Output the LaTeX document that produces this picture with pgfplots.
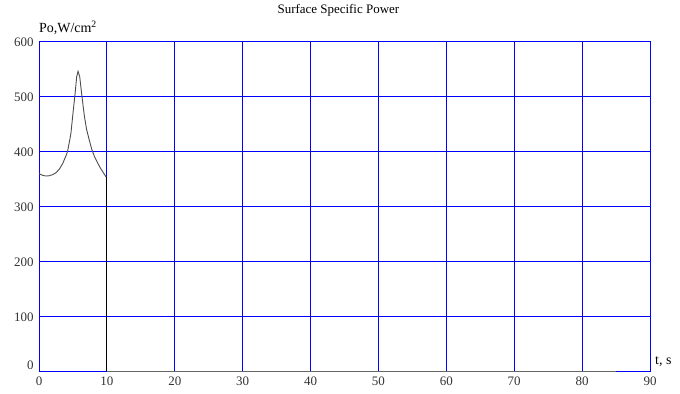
\documentclass[border=0pt]{standalone}
\usepackage{fontspec}
\setmainfont{Liberation Serif}
\usepackage{pgfplots}
\pgfplotsset{compat=1.18}
\definecolor{gridblue}{RGB}{0,0,255}
\begin{document}
\fontsize{13}{15}\selectfont
\begin{tikzpicture}[x=1bp,y=1bp]
\begin{axis}[
  at={(0,0)}, anchor=south west,
  scale only axis, width=611bp, height=330bp,
  xmin=0, xmax=90, ymin=0, ymax=600,
  xtick={0,10,...,90}, ytick={0,100,...,600},
  yticklabels={\raisebox{14bp}{0},100,200,300,400,500,600},
  grid=major,
  major grid style={gridblue, line width=0.8pt},
  axis line style={gridblue, line width=0.8pt},
  major tick length=0pt,
  /pgf/number format/assume math mode=true,
  ticklabel style={font=\fontsize{13}{15}\selectfont, text=black!80},
  xticklabel style={yshift=-1pt},
  yticklabel style={xshift=-1pt, yshift=-1pt},
  clip=false,
]
\addplot[black!70, line width=0.9pt] coordinates {
(0,359) (0.5,356) (1,354.5) (1.5,355) (2,357) (2.5,360.5) (3,367) (3.5,377.5)
(4,392) (4.2,399) (4.5,418) (4.7,432) (5.05,474) (5.3,502) (5.55,535)
(5.75,545) (6.0,535) (6.3,502) (6.7,462) (7.0,440) (7.4,420) (7.8,402)
(8.2,389) (8.65,378) (9.0,370) (9.4,362) (9.87,353) (10,352)
};
\addplot[black, line width=1.2pt] coordinates {(10,352) (10,0)};
\addplot[black!60, line width=0.8pt] coordinates {(10,0) (85,0)};
\node[anchor=south west, inner sep=0pt] at (rel axis cs:0,1) [yshift=6bp] {\fontsize{14}{16}\selectfont Po,W/cm\textsuperscript{2}};
\node[anchor=west, inner sep=0pt] at (rel axis cs:1,0) [xshift=5bp, yshift=9bp] {\fontsize{14}{16}\selectfont t, s};
\node[anchor=base, inner sep=0pt] at (rel axis cs:0.49,1) [yshift=28bp] {Surface Specific Power};
\end{axis}
\pgfresetboundingbox
\path[use as bounding box] (-39bp,-23bp) rectangle (641bp,371bp);
\end{tikzpicture}
\end{document}
